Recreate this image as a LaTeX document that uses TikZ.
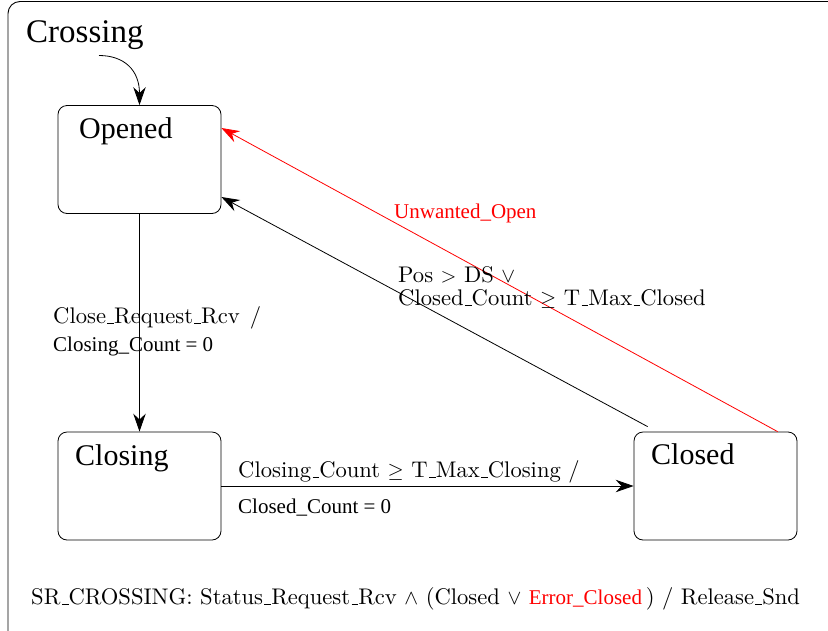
\documentclass[tikz,border=0pt]{standalone}
\usepackage{fontspec}
\setmainfont{lmroman10-regular}[Extension=.otf]
\newfontfamily\tms{Liberation Serif}
\usetikzlibrary{arrows.meta}
\newcommand\lmus{\leavevmode\kern.06em\vbox{\hrule width.3em height .5pt}}
\tikzset{
  statebox/.style={draw, line width=0.8pt, rounded corners=9pt, minimum width=163pt, minimum height=108pt, inner sep=0pt},
  sname/.style={anchor=base west, inner sep=0pt, font=\tms\fontsize{30}{34}\selectfont},
  lmlab/.style={anchor=base west, inner sep=0pt, font=\fontsize{22.6}{26}\selectfont},
  tmlab/.style={anchor=base west, inner sep=0pt, font=\tms\fontsize{21}{24}\selectfont},
  arr/.style={line width=0.8pt, -{Stealth[length=18pt,width=12.5pt,inset=6pt]}},
}
\begin{document}
\begin{tikzpicture}[x=1pt,y=-1pt]
\useasboundingbox (0,0) rectangle (828,630);
\clip (0,0) rectangle (828,630);
\draw[line width=0.9pt, rounded corners=12pt] (8,1.5) rectangle (850,645);
\node[anchor=base west, inner sep=0pt, font=\tms\fontsize{33}{38}\selectfont] (title) at (26,42) {Crossing};
\node[statebox] (opened) at (139.5,159.5) {};
\node[statebox] (closing) at (139.5,486) {};
\node[statebox] (closed) at (715.5,486) {};
\node[sname] (openedT) at (79,138) {Opened};
\node[sname] (closingT) at (75,465) {Closing};
\node[sname] (closedT) at (651,464) {Closed};
\coordinate (init) at (99,55.5);
\draw[arr] (init) .. controls (124,55.5) and (139.5,70) .. (opened.north);
\draw[arr] (opened.south) -- (closing.north);
\draw[arr] (closing.east) -- (closed.west);
\draw[arr] ([shift={(14pt,5pt)}]closed.north west) -- ([yshift=-37.5pt]opened.east);
\draw[arr, red] ([xshift=144pt]closed.north west) -- ([yshift=31.5pt]opened.east);
\node[lmlab] (l1a) at (53,323) {Close\lmus Request\lmus Rcv\hskip 10pt/};
\node[tmlab] (l1b) at (53,351) {Closing\_Count = 0};
\node[lmlab] (l2a) at (238,477) {Closing\lmus Count $\geq$ T\lmus Max\lmus Closing /};
\node[tmlab] (l2b) at (238,513) {Closed\_Count = 0};
\node[tmlab, text=red] (l3) at (394,218) {Unwanted\_Open};
\node[lmlab] (l4a) at (398,282) {Pos $>$ DS $\vee$};
\node[lmlab] (l4b) at (398,305) {Closed\lmus Count $\geq$ T\lmus Max\lmus Closed};
\node[lmlab] (bottom) at (31,604) {SR\lmus CROSSING: Status\lmus Request\lmus Rcv $\wedge$ (Closed $\vee$ {\tms\fontsize{21}{24}\selectfont\color{red}Error\_Closed}\,) / Release\lmus Snd};
\end{tikzpicture}
\end{document}
